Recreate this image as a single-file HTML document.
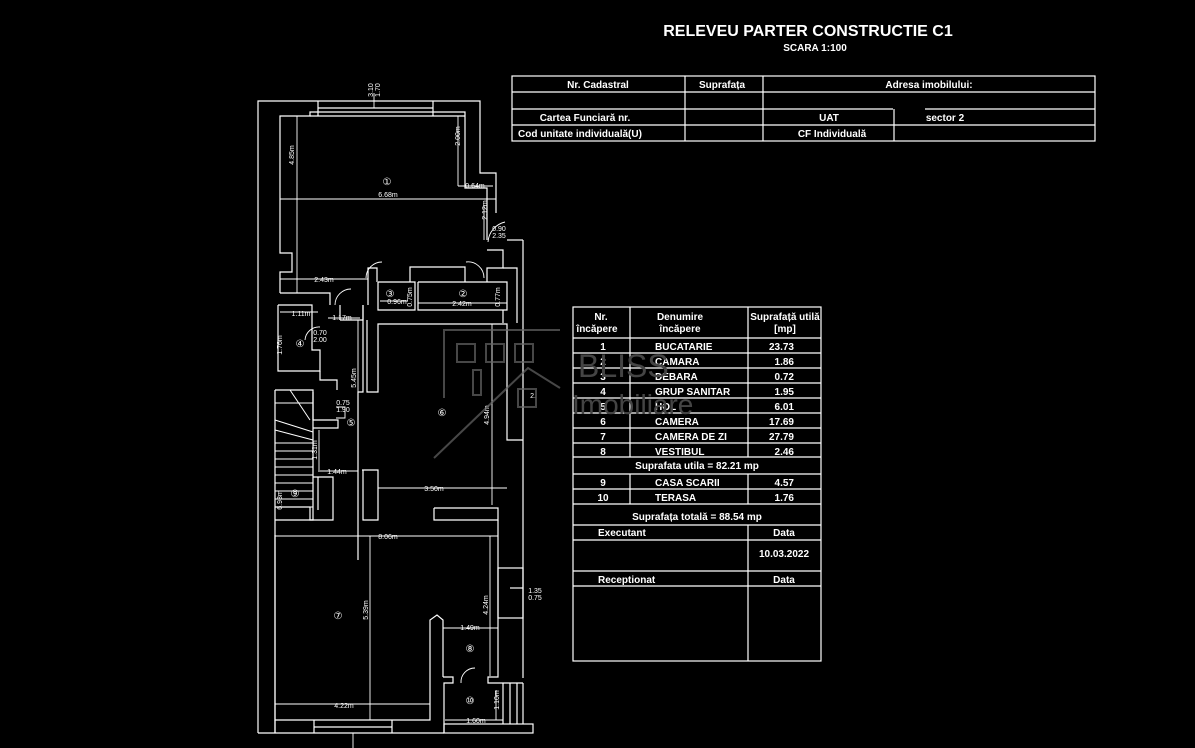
<!DOCTYPE html>
<html><head><meta charset="utf-8"><style>
html,body{margin:0;padding:0;background:#000;}
svg{display:block}
text{font-family:"Liberation Sans",Arial,sans-serif;fill:#fff}
.b{font-weight:bold}
</style></head><body>
<svg width="1195" height="748" viewBox="0 0 1195 748" xmlns="http://www.w3.org/2000/svg">
<rect width="1195" height="748" fill="#000"/>
<text x="808" y="36" font-size="16" text-anchor="middle" class="b">RELEVEU  PARTER  CONSTRUCTIE C1</text>
<text x="815" y="51" font-size="10" text-anchor="middle" class="b">SCARA 1:100</text>

<g stroke="#fff" stroke-width="1.2" fill="none">
<rect x="512" y="76" width="583" height="65"/>
<line x1="512" y1="92" x2="1095" y2="92"/>
<line x1="512" y1="109" x2="763" y2="109"/>
<line x1="763" y1="109" x2="893" y2="109"/>
<line x1="925" y1="109" x2="1095" y2="109"/>
<line x1="512" y1="125" x2="1095" y2="125"/>
<line x1="685" y1="76" x2="685" y2="141"/>
<line x1="763" y1="76" x2="763" y2="141"/>
<line x1="894" y1="109" x2="894" y2="141"/>
<rect x="573" y="307" width="248" height="354"/>
<line x1="630" y1="307" x2="630" y2="457"/>
<line x1="748" y1="307" x2="748" y2="457"/>
<line x1="573" y1="338" x2="821" y2="338"/>
<line x1="573" y1="353" x2="821" y2="353"/>
<line x1="573" y1="368" x2="821" y2="368"/>
<line x1="573" y1="383" x2="821" y2="383"/>
<line x1="573" y1="398" x2="821" y2="398"/>
<line x1="573" y1="413" x2="821" y2="413"/>
<line x1="573" y1="428" x2="821" y2="428"/>
<line x1="573" y1="443" x2="821" y2="443"/>
<line x1="573" y1="457" x2="821" y2="457"/>
<line x1="573" y1="474" x2="821" y2="474"/>
<line x1="573" y1="489" x2="821" y2="489"/>
<line x1="573" y1="504" x2="821" y2="504"/>
<line x1="630" y1="474" x2="630" y2="504"/>
<line x1="748" y1="474" x2="748" y2="504"/>
<line x1="573" y1="525" x2="821" y2="525"/>
<line x1="573" y1="540" x2="821" y2="540"/>
<line x1="573" y1="571" x2="821" y2="571"/>
<line x1="573" y1="586" x2="821" y2="586"/>
<line x1="748" y1="525" x2="748" y2="661"/>
</g>

<g font-size="10" text-anchor="middle" class="b">
<text x="598" y="88">Nr. Cadastral</text>
<text x="722" y="88">Suprafața</text>
<text x="929" y="88">Adresa imobilului:</text>
<text x="585" y="121">Cartea Funciară nr.</text>
<text x="829" y="121">UAT</text>
<text x="945" y="121">sector 2</text>
<text x="580" y="137">Cod unitate individuală(U)</text>
<text x="832" y="137">CF Individuală</text>
<text x="601" y="320">Nr.</text>
<text x="597" y="332">încăpere</text>
<text x="680" y="320">Denumire</text>
<text x="680" y="332">încăpere</text>
<text x="785" y="320">Suprafață utilă</text>
<text x="785" y="332">[mp]</text>
</g>
<g font-size="10" class="b">
<g text-anchor="middle">
<text x="603" y="350">1</text><text x="603" y="365">2</text><text x="603" y="380">3</text><text x="603" y="395">4</text>
<text x="603" y="410">5</text><text x="603" y="425">6</text><text x="603" y="440">7</text><text x="603" y="455">8</text>
<text x="603" y="486">9</text><text x="603" y="501">10</text>
<text x="697" y="469">Suprafata  utila = 82.21 mp</text>
<text x="697" y="520">Suprafața totală = 88.54 mp</text>
<text x="784" y="536">Data</text>
<text x="784" y="557">10.03.2022</text>
<text x="784" y="583">Data</text>
</g>
<text x="655" y="350">BUCATARIE</text><text x="655" y="365">CAMARA</text><text x="655" y="380">DEBARA</text>
<text x="655" y="395">GRUP SANITAR</text><text x="655" y="410">HOL</text><text x="655" y="425">CAMERA</text>
<text x="655" y="440">CAMERA DE ZI</text><text x="655" y="455">VESTIBUL</text>
<text x="655" y="486">CASA SCARII</text><text x="655" y="501">TERASA</text>
<g text-anchor="end">
<text x="794" y="350">23.73</text><text x="794" y="365">1.86</text><text x="794" y="380">0.72</text><text x="794" y="395">1.95</text>
<text x="794" y="410">6.01</text><text x="794" y="425">17.69</text><text x="794" y="440">27.79</text><text x="794" y="455">2.46</text>
<text x="794" y="486">4.57</text><text x="794" y="501">1.76</text>
</g>
<text x="598" y="536">Executant</text>
<text x="598" y="583">Receptionat</text>
</g>

<g stroke="#fff" stroke-width="1.2" fill="none">
<polyline points="258,733 258,101 480,101 480,173 496,173 496,213"/>
<line x1="318" y1="108" x2="433" y2="108"/>
<line x1="318" y1="101" x2="318" y2="116"/>
<line x1="433" y1="101" x2="433" y2="116"/>
<polyline points="280,293 280,272 292,272 292,253 280,253 280,116 310,116 310,112 465,112 465,188 487,188 487,240"/>
<line x1="310" y1="116" x2="465" y2="116"/>
<polyline points="280,293 330,293 330,305"/>
<polyline points="368,305 368,268 377,268 377,282"/>
<polyline points="378,282 415,282 415,310 378,310 378,282"/>
<polyline points="418,282 507,282 507,310 418,310 418,282"/>
<polyline points="410,282 410,267 465,267 465,282"/>
<polyline points="487,282 487,268 503,268 503,250 487,250"/>
<polyline points="503,268 517,268 517,323"/>
<polyline points="503,310 503,323"/>
<polyline points="278,305 278,371 320,371 320,350 312,350 312,305 278,305"/>
<polyline points="320,371 320,380 337,380 337,390"/>
<line x1="340" y1="305" x2="340" y2="320"/>
<polyline points="340,320 363,320 363,305"/>
<polyline points="363,305 363,392 358,392 358,560"/>
<polyline points="367,320 367,392 378,392 378,324 507,324 507,440 523,440"/>
<polyline points="313,392 313,420 338,420 338,428 313,428"/>
<polyline points="523,240 523,678"/>
<polyline points="507,240 523,240"/>
<polyline points="275,390 313,390 313,520 275,520"/>
<line x1="275" y1="390" x2="275" y2="733"/>
<g stroke-width="1">
<line x1="275" y1="403" x2="313" y2="403"/>
<line x1="275" y1="420" x2="313" y2="432"/>
<line x1="290" y1="390" x2="310" y2="420"/>
<line x1="275" y1="430" x2="313" y2="440"/>
<line x1="275" y1="443" x2="313" y2="443"/>
<line x1="275" y1="451" x2="313" y2="451"/>
<line x1="275" y1="459" x2="313" y2="459"/>
<line x1="275" y1="467" x2="313" y2="467"/>
<line x1="275" y1="475" x2="313" y2="475"/>
<line x1="275" y1="483" x2="313" y2="483"/>
<line x1="275" y1="491" x2="313" y2="491"/>
<line x1="275" y1="499" x2="313" y2="499"/>
<line x1="275" y1="507" x2="313" y2="507"/>
</g>
<polyline points="313,477 333,477 333,520 310,520 310,507 275,507"/>
<polyline points="318,477 318,510"/>
<polyline points="362,470 378,470 378,520 363,520 363,470"/>
<polyline points="434,508 498,508 498,520 434,520 434,508"/>
<polyline points="275,535 275,720 430,720 430,620 437,615 443,620 443,677"/>
<line x1="275" y1="720" x2="275" y2="733"/>
<polyline points="498,520 498,677 488,677 488,683 523,683"/>
<line x1="258" y1="733" x2="444" y2="733"/>
<line x1="314" y1="720" x2="314" y2="733"/>
<line x1="392" y1="720" x2="392" y2="733"/>
<line x1="314" y1="727" x2="392" y2="727"/>
<polyline points="443,677 453,677 453,683 444,683 444,733"/>
<rect x="444" y="724" width="89" height="9"/>
<line x1="523" y1="683" x2="523" y2="724"/>
<line x1="503" y1="683" x2="503" y2="724"/>
<line x1="510" y1="683" x2="510" y2="724"/>
<line x1="517" y1="683" x2="517" y2="724"/>
<rect x="498" y="568" width="25" height="50"/>
<line x1="510" y1="588" x2="523" y2="588"/>
</g>
<g stroke="#fff" stroke-width="0.9" fill="none">
<line x1="280" y1="199" x2="496" y2="199"/>
<line x1="297" y1="116" x2="297" y2="293"/>
<line x1="458" y1="116" x2="458" y2="186"/>
<line x1="458" y1="186" x2="493" y2="186"/>
<line x1="280" y1="279" x2="368" y2="279"/>
<line x1="380" y1="301" x2="408" y2="301"/>
<line x1="418" y1="303" x2="507" y2="303"/>
<line x1="280" y1="312" x2="318" y2="312"/>
<line x1="328" y1="318" x2="360" y2="318"/>
<line x1="358" y1="320" x2="358" y2="510"/>
<line x1="492" y1="324" x2="492" y2="505"/>
<line x1="378" y1="488" x2="507" y2="488"/>
<line x1="318" y1="471" x2="358" y2="471"/>
<line x1="319" y1="430" x2="319" y2="470"/>
<line x1="275" y1="536" x2="498" y2="536"/>
<line x1="370" y1="536" x2="370" y2="720"/>
<line x1="490" y1="536" x2="490" y2="676"/>
<line x1="443" y1="628" x2="498" y2="628"/>
<line x1="275" y1="704" x2="430" y2="704"/>
<line x1="445" y1="720" x2="503" y2="720"/>
<line x1="496" y1="690" x2="496" y2="720"/>
<line x1="374" y1="93" x2="374" y2="108"/>
<line x1="353" y1="733" x2="353" y2="748"/>
<line x1="484" y1="205" x2="484" y2="240"/>
<path d="M488 242 A22 22 0 0 1 505 222"/>
<path d="M366 278 A16 16 0 0 1 382 262"/>
<path d="M484 278 A16 16 0 0 0 466 262"/>
<path d="M335 305 A16 16 0 0 1 351 289"/>
<path d="M305 340 A14 14 0 0 1 320 327"/>
<path d="M336 407 L345 407 L345 418 L336 418"/>
<path d="M461 683 A14 14 0 0 1 475 668"/>
</g>
<g font-size="7" text-anchor="middle">
<text x="388" y="197">6.68m</text>
<text x="387" y="185" font-size="10">①</text>
<text x="475" y="188">0.64m</text>
<text x="324" y="282">2.43m</text>
<text x="397" y="304">0.96m</text>
<text x="462" y="306">2.42m</text>
<text x="390" y="297" font-size="10">③</text>
<text x="463" y="297" font-size="10">②</text>
<text x="301" y="316">1.11m</text>
<text x="342" y="320">1.17m</text>
<text x="300" y="347" font-size="10">④</text>
<text x="320" y="335">0.70</text><text x="320" y="342">2.00</text>
<text x="351" y="426" font-size="10">⑤</text>
<text x="343" y="405">0.75</text><text x="343" y="412">1.90</text>
<text x="442" y="416" font-size="10">⑥</text>
<text x="434" y="491">3.50m</text>
<text x="337" y="474">1.44m</text>
<text x="295" y="497" font-size="10">⑨</text>
<text x="388" y="539">8.06m</text>
<text x="338" y="619" font-size="10">⑦</text>
<text x="470" y="630">1.49m</text>
<text x="470" y="652" font-size="10">⑧</text>
<text x="470" y="704" font-size="10">⑩</text>
<text x="344" y="708">4.22m</text>
<text x="476" y="723">1.60m</text>
<text x="499" y="231">0.90</text><text x="499" y="238">2.35</text>
<text x="535" y="593">1.35</text><text x="535" y="600">0.75</text>
<text x="533" y="398">2.</text>
</g>
<g font-size="7" text-anchor="middle">
<text transform="translate(294,155) rotate(-90)">4.85m</text>
<text transform="translate(460,136) rotate(-90)">2.00m</text>
<text transform="translate(487,210) rotate(-90)">2.12m</text>
<text transform="translate(356,378) rotate(-90)">5.45m</text>
<text transform="translate(489,415) rotate(-90)">4.94m</text>
<text transform="translate(368,610) rotate(-90)">5.39m</text>
<text transform="translate(488,605) rotate(-90)">4.24m</text>
<text transform="translate(282,345) rotate(-90)">1.76m</text>
<text transform="translate(317,450) rotate(-90)">1.31m</text>
<text transform="translate(282,500) rotate(-90)">6.93m</text>
<text transform="translate(499,700) rotate(-90)">1.10m</text>
<text transform="translate(500,297) rotate(-90)">0.77m</text>
<text transform="translate(412,297) rotate(-90)">0.75m</text>
<text transform="translate(373,90) rotate(-90)">3.10</text>
<text transform="translate(380,90) rotate(-90)">1.70</text>
</g>
<g stroke="#666" stroke-width="2" fill="none" opacity="0.7">
<polyline points="444,398 444,330 560,330"/>
<rect x="457" y="344" width="18" height="18"/>
<rect x="486" y="344" width="18" height="18"/>
<rect x="515" y="344" width="18" height="18"/>
<rect x="473" y="370" width="8" height="25"/>
<polyline points="434,458 528,368 560,388"/>
<rect x="518" y="389" width="18" height="18"/>
</g>
<text x="578" y="377" font-size="32" style="fill:#444">BLISS</text>
<text x="572" y="414" font-size="28" style="fill:#444">Imobiliare</text>
</svg>
</body></html>
